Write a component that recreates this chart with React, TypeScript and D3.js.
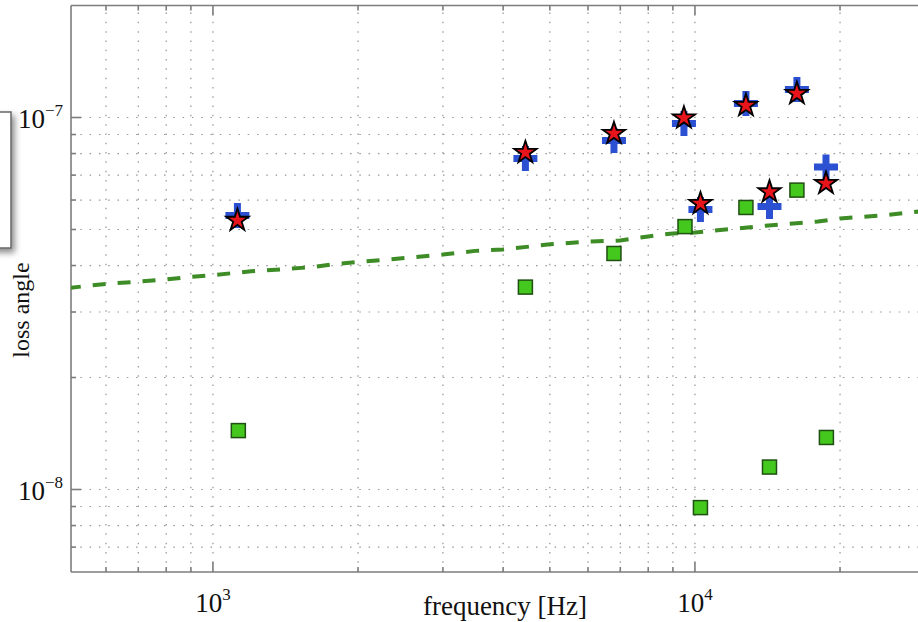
import React from 'react';
import * as d3 from 'd3';

const W = 918;
const H = 622;

// Measured data (frequency in Hz, loss angle)
const pointFreqs = [1124, 4449, 6792, 9488, 10266, 12758, 14278, 16277, 18703];
const plusValues = [5.45e-8, 7.76e-8, 8.67e-8, 9.64e-8, 5.66e-8, 1.09e-7, 5.76e-8, 1.19e-7, 7.36e-8];
const starValues = [5.29e-8, 8.05e-8, 9.06e-8, 9.97e-8, 5.87e-8, 1.077e-7, 6.31e-8, 1.16e-7, 6.65e-8];
const squareFreqs = [1129, 4449, 6792, 9536, 10266, 12758, 14278, 16277, 18740];
const squareValues = [1.44e-8, 3.5e-8, 4.31e-8, 5.09e-8, 8.94e-9, 5.73e-8, 1.149e-8, 6.38e-8, 1.38e-8];

// Model curve (dashed)
const curveFreqs = [500, 600, 700, 800, 900, 1000, 1200, 1400, 1600, 1800, 2000, 2500, 3000, 3500, 4000, 5000, 6000, 7000, 8000, 9000, 10000, 12000, 14000, 16000, 18000, 20000, 25000, 30000];
const curveValues = [3.48e-8, 3.57e-8, 3.62e-8, 3.67e-8, 3.73e-8, 3.77e-8, 3.86e-8, 3.91e-8, 3.96e-8, 4.04e-8, 4.09e-8, 4.19e-8, 4.28e-8, 4.38e-8, 4.42e-8, 4.56e-8, 4.64e-8, 4.67e-8, 4.79e-8, 4.88e-8, 4.91e-8, 5.02e-8, 5.12e-8, 5.19e-8, 5.25e-8, 5.35e-8, 5.47e-8, 5.61e-8];

// Axis setup
const xDomain = [507.6, 30000];
const yDomain = [6e-9, 2e-7];
const xTickValues = [1000, 10000];
const xTickExps = ['3', '4'];
const yTickValues = [1e-8, 1e-7];
const yTickExps = ['\u22128', '\u22127'];
const xLabel = 'frequency [Hz]';
const yLabel = 'loss angle';

const FONT = "'Liberation Serif', 'Times New Roman', serif";

export default function App() {
  const left = 71;
  const decX = 482;
  const decY = 372;
  const x = d3
    .scaleLog()
    .domain(xDomain)
    .range([left, left + Math.log10(xDomain[1] / xDomain[0]) * decX]);
  const y1e7 = 117.5;
  const y = d3
    .scaleLog()
    .domain(yDomain)
    .range([
      y1e7 + Math.log10(1e-7 / yDomain[0]) * decY,
      y1e7 - Math.log10(yDomain[1] / 1e-7) * decY,
    ]);

  const bottom = y(yDomain[0]);
  const top = y(yDomain[1]);
  const right = x(xDomain[1]);

  const xGrid: { v: number; major: boolean }[] = [];
  for (const d of [100, 1000, 10000]) {
    for (let k = 1; k <= 9; k++) {
      const v = k * d;
      if (v > xDomain[0] && v < xDomain[1]) xGrid.push({ v, major: k === 1 });
    }
  }
  const yGrid: { v: number; major: boolean }[] = [];
  for (const d of [1e-9, 1e-8, 1e-7]) {
    for (let k = 1; k <= 9; k++) {
      const v = k * d;
      if (v > yDomain[0] * 1.0001 && v < yDomain[1] * 0.9999) yGrid.push({ v, major: k === 1 });
    }
  }

  const line = d3
    .line<number>()
    .x((_, i) => x(curveFreqs[i]))
    .y((v) => y(v));
  const curvePath = line(curveValues) || '';

  const starPath = d3.symbol().type(d3.symbolStar).size(155)() || '';
  const gridColor = '#959595';
  const axisColor = '#7d7d7d';

  return (
    <svg
      width={W}
      height={H}
      style={{ position: 'absolute', left: 0, top: 0, background: '#fff' }}
    >
      <defs>
        <clipPath id="plotClip">
          <rect x={left} y={top} width={right - left} height={bottom - top} />
        </clipPath>
        <filter id="shadow" x="-50%" y="-50%" width="200%" height="200%">
          <feDropShadow dx="3" dy="4" stdDeviation="3" floodColor="#000" floodOpacity="0.45" />
        </filter>
      </defs>
      <rect x={0} y={0} width={W} height={H} fill="#fff" />

      {/* grid */}
      <g stroke={gridColor} strokeWidth={1.2} strokeDasharray="1.5,7.8" fill="none">
        {xGrid.map((g) => (
          <line key={'gx' + g.v} x1={x(g.v)} x2={x(g.v)} y1={bottom} y2={top} />
        ))}
        {yGrid.map((g) => (
          <line key={'gy' + g.v} x1={left} x2={right} y1={y(g.v)} y2={y(g.v)} />
        ))}
      </g>

      {/* axes box */}
      <g stroke={axisColor} strokeWidth={1.6} fill="none">
        <line x1={left} x2={right} y1={bottom} y2={bottom} />
        <line x1={left} x2={right} y1={top} y2={top} />
        <line x1={left} x2={left} y1={top} y2={bottom} />
        {xGrid.map((g) => (
          <g key={'tx' + g.v}>
            <line x1={x(g.v)} x2={x(g.v)} y1={bottom} y2={bottom - (g.major ? 10 : 5)} />
            <line x1={x(g.v)} x2={x(g.v)} y1={top} y2={top + (g.major ? 10 : 5)} />
          </g>
        ))}
        {yGrid.map((g) => (
          <line key={'ty' + g.v} x1={left} x2={left + (g.major ? 10 : 5)} y1={y(g.v)} y2={y(g.v)} />
        ))}
      </g>

      {/* data */}
      <g clipPath="url(#plotClip)">
        <path
          d={curvePath}
          fill="none"
          stroke="#3d8c26"
          strokeWidth={4}
          strokeDasharray="13,12"
        />
        {squareFreqs.map((f, i) => (
          <rect
            key={'sq' + i}
            x={x(f) - 7}
            y={y(squareValues[i]) - 7}
            width={14}
            height={14}
            fill="#45c81e"
            stroke="#1f4f12"
            strokeWidth={1.5}
          />
        ))}
        {pointFreqs.map((f, i) => (
          <path
            key={'pl' + i}
            transform={`translate(${x(f)},${y(plusValues[i])})`}
            d="M-12,0H12M0,-12.5V12.5"
            stroke="#2b50d2"
            strokeWidth={7}
            fill="none"
          />
        ))}
        {pointFreqs.map((f, i) => (
          <path
            key={'st' + i}
            transform={`translate(${x(f)},${y(starValues[i])})`}
            d={starPath}
            fill="#e8141c"
            stroke="#000"
            strokeWidth={1.8}
            strokeLinejoin="miter"
          />
        ))}
      </g>

      {/* tick labels */}
      <g fontFamily={FONT} fill="#111">
        {xTickValues.map((v, i) => (
          <text key={'xl' + v} x={x(v)} y={612} textAnchor="middle" fontSize={27}>
            10
            <tspan dy={-12} fontSize={17}>
              {xTickExps[i]}
            </tspan>
          </text>
        ))}
        {yTickValues.map((v, i) => (
          <text key={'yl' + v} x={63} y={y(v) + 10.5} textAnchor="end" fontSize={27}>
            10
            <tspan dy={-12} fontSize={17}>
              {yTickExps[i]}
            </tspan>
          </text>
        ))}
        <text x={505} y={615} textAnchor="middle" fontSize={27}>
          {xLabel}
        </text>
        <text
          transform={`translate(29,310) rotate(-90)`}
          textAnchor="middle"
          fontSize={24}
        >
          {yLabel}
        </text>
      </g>

      {/* cropped legend box at left edge */}
      <rect
        x={-20}
        y={112}
        width={31}
        height={136}
        fill="#fff"
        stroke="#666"
        strokeWidth={1.5}
        filter="url(#shadow)"
      />
    </svg>
  );
}
